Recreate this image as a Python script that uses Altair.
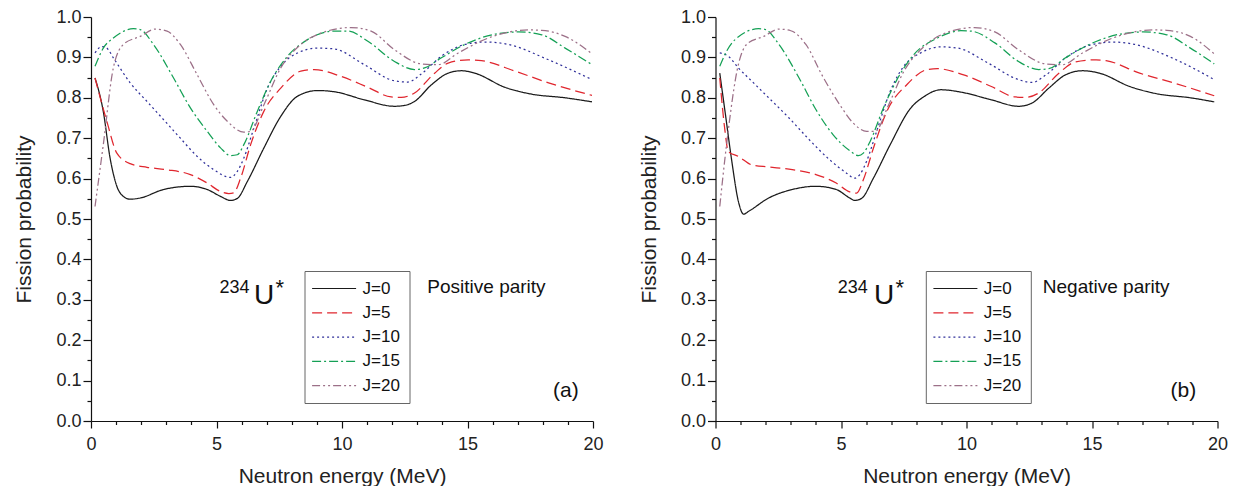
import altair as alt
import pandas as pd

FONT = "Liberation Sans"

J_LABELS = ["J=0", "J=5", "J=10", "J=15", "J=20"]
COLORS = ["#1a1a1a", "#e0262e", "#30309a", "#14a055", "#9c7088"]
DASHES = [[1, 0], [10, 5], [2, 3], [9, 3, 2, 3], [8, 3, 2, 3, 2, 3]]

X_TICKS = list(range(0, 21))
Y_TICKS = [0.0, 0.05, 0.1, 0.15, 0.2, 0.25, 0.3, 0.35, 0.4, 0.45, 0.5,
           0.55, 0.6, 0.65, 0.7, 0.75, 0.8, 0.85, 0.9, 0.95, 1.0]

# ---------------- panel (a): positive parity ----------------
a_J0_E = [0.16, 0.49, 0.76, 1.03, 1.29, 1.56, 1.96, 2.89, 3.96, 4.63, 5.16, 5.56, 5.83, 6.23, 6.89, 7.56,
          8.23, 9.03, 9.69, 10.89, 12.09, 12.49, 12.89, 13.56, 14.23, 14.76, 15.29, 16.49, 17.56, 18.89, 19.96]
a_J0_P = [0.849, 0.766, 0.651, 0.581, 0.556, 0.549, 0.552, 0.573, 0.581, 0.573, 0.556, 0.546, 0.551, 0.593,
          0.676, 0.754, 0.804, 0.818, 0.815, 0.795, 0.779, 0.781, 0.791, 0.832, 0.861, 0.867, 0.861, 0.826,
          0.809, 0.800, 0.790]
a_J5_E = [0.16, 0.63, 1.03, 1.56, 2.23, 3.03, 3.96, 4.63, 5.16, 5.49, 5.69, 5.96, 6.36, 6.89, 7.56, 8.36,
          8.89, 9.96, 11.03, 11.96, 12.36, 12.89, 13.69, 14.23, 15.03, 15.56, 16.89, 18.23, 19.96]
a_J5_P = [0.849, 0.742, 0.663, 0.637, 0.628, 0.622, 0.610, 0.589, 0.568, 0.563, 0.565, 0.601, 0.684, 0.767,
          0.824, 0.866, 0.870, 0.853, 0.826, 0.802, 0.801, 0.812, 0.861, 0.886, 0.894, 0.892, 0.866, 0.837, 0.806]
a_J10_E = [0.16, 0.43, 0.63, 0.89, 1.56, 2.23, 2.89, 3.56, 4.23, 4.89, 5.56, 5.83, 6.09, 6.49, 7.03, 7.56,
           8.23, 9.03, 9.69, 10.89, 12.09, 12.63, 13.16, 13.96, 14.89, 15.69, 16.63, 18.23, 19.96]
a_J10_P = [0.911, 0.927, 0.923, 0.899, 0.837, 0.791, 0.746, 0.700, 0.655, 0.622, 0.603, 0.618, 0.651, 0.725,
           0.824, 0.878, 0.911, 0.923, 0.921, 0.882, 0.842, 0.839, 0.859, 0.903, 0.932, 0.938, 0.932, 0.894, 0.845]
a_J15_E = [0.16, 0.49, 0.89, 1.69, 1.96, 2.49, 3.29, 3.96, 4.63, 5.16, 5.56, 5.83, 6.09, 6.63, 7.16, 7.83,
           8.63, 9.69, 10.23, 11.03, 12.09, 12.89, 13.29, 13.96, 14.89, 16.23, 17.03, 17.96, 18.89, 19.96]
a_J15_P = [0.878, 0.923, 0.948, 0.971, 0.969, 0.932, 0.849, 0.775, 0.717, 0.676, 0.657, 0.659, 0.684, 0.767,
           0.841, 0.903, 0.944, 0.965, 0.965, 0.940, 0.890, 0.870, 0.874, 0.899, 0.932, 0.959, 0.963, 0.956,
           0.923, 0.882]
a_J20_E = [0.16, 0.49, 0.89, 1.29, 1.96, 2.56, 3.03, 3.56, 4.23, 4.89, 5.43, 6.09, 6.36, 6.89, 7.56, 8.36,
           9.16, 10.36, 11.16, 12.09, 13.16, 13.83, 14.63, 15.83, 17.43, 17.96, 18.89, 19.96]
a_J20_P = [0.531, 0.684, 0.874, 0.932, 0.952, 0.970, 0.965, 0.932, 0.857, 0.783, 0.742, 0.715, 0.717, 0.783,
           0.874, 0.932, 0.960, 0.974, 0.965, 0.919, 0.884, 0.882, 0.911, 0.948, 0.968, 0.967, 0.952, 0.909]

# ---------------- panel (b): negative parity ----------------
b_J0_E = [0.17, 0.38, 0.65, 0.91, 1.12, 1.32, 2.12, 3.06, 4.0, 4.81, 5.35, 5.55, 5.82, 6.29, 6.96, 7.77,
          8.31, 8.98, 9.78, 10.99, 12.07, 12.61, 13.28, 13.95, 14.62, 15.3, 16.5, 17.58, 18.92, 19.87]
b_J0_P = [0.861, 0.766, 0.643, 0.544, 0.512, 0.519, 0.552, 0.573, 0.581, 0.573, 0.552, 0.546, 0.551, 0.601,
          0.684, 0.774, 0.803, 0.820, 0.814, 0.795, 0.779, 0.787, 0.824, 0.857, 0.867, 0.861, 0.828, 0.810,
          0.800, 0.790]
b_J5_E = [0.17, 0.38, 0.51, 0.91, 1.45, 2.12, 3.06, 4.0, 4.81, 5.35, 5.62, 5.89, 6.29, 6.83, 7.63, 8.44,
          8.84, 9.92, 10.99, 11.94, 12.34, 12.88, 13.68, 14.35, 15.16, 15.56, 16.9, 18.25, 19.87]
b_J5_P = [0.849, 0.717, 0.667, 0.655, 0.634, 0.629, 0.622, 0.610, 0.589, 0.567, 0.564, 0.597, 0.675, 0.767,
          0.833, 0.870, 0.872, 0.856, 0.828, 0.802, 0.801, 0.812, 0.861, 0.889, 0.894, 0.892, 0.861, 0.837, 0.805]
b_J10_E = [0.17, 0.51, 0.91, 1.45, 2.12, 2.93, 3.74, 4.54, 5.21, 5.55, 5.75, 6.02, 6.42, 6.96, 7.5, 8.17,
           8.98, 9.65, 10.86, 12.07, 12.61, 13.15, 13.95, 14.89, 15.83, 16.64, 18.25, 19.87]
b_J10_P = [0.911, 0.903, 0.874, 0.841, 0.800, 0.750, 0.696, 0.647, 0.614, 0.601, 0.610, 0.643, 0.717, 0.816,
           0.878, 0.911, 0.926, 0.923, 0.886, 0.845, 0.838, 0.856, 0.899, 0.930, 0.938, 0.933, 0.897, 0.845]
b_J15_E = [0.17, 0.44, 0.78, 1.72, 1.99, 2.53, 3.33, 4.0, 4.68, 5.35, 5.69, 5.89, 6.16, 6.69, 7.23, 7.9,
           8.84, 9.78, 10.19, 11.13, 12.07, 12.88, 13.28, 13.95, 14.89, 16.24, 17.04, 17.98, 18.92, 19.87]
b_J15_P = [0.878, 0.915, 0.944, 0.971, 0.969, 0.932, 0.849, 0.771, 0.709, 0.669, 0.657, 0.663, 0.692, 0.775,
           0.845, 0.907, 0.948, 0.966, 0.965, 0.936, 0.890, 0.870, 0.872, 0.899, 0.932, 0.959, 0.963, 0.956,
           0.923, 0.884]
b_J20_E = [0.17, 0.44, 0.91, 1.25, 1.92, 2.53, 3.0, 3.6, 4.27, 4.95, 5.48, 6.02, 6.36, 6.9, 7.5, 8.31,
           9.11, 10.32, 11.13, 12.07, 13.15, 13.82, 14.62, 15.83, 17.44, 17.98, 18.92, 19.87]
b_J20_P = [0.531, 0.684, 0.882, 0.933, 0.952, 0.970, 0.966, 0.932, 0.853, 0.783, 0.738, 0.717, 0.717, 0.783,
           0.865, 0.927, 0.959, 0.974, 0.963, 0.919, 0.884, 0.882, 0.911, 0.948, 0.968, 0.967, 0.952, 0.909]

# ---------------- annotations ----------------
ANN_SIZE = [18, 28, 22, 19, 21]
ANN_A_TEXT = ["234", "U", "*", "Positive parity", "(a)"]
ANN_A_X = [5.12, 6.49, 7.35, 13.40, 18.41]
ANN_A_Y = [0.317, 0.290, 0.312, 0.316, 0.060]
ANN_B_TEXT = ["234", "U", "*", "Negative parity", "(b)"]
ANN_B_X = [4.87, 6.31, 7.17, 13.04, 18.13]
ANN_B_Y = [0.317, 0.290, 0.312, 0.316, 0.060]


def lines_df(E_lists, P_lists):
    rows = []
    for lab, E, P in zip(J_LABELS, E_lists, P_lists):
        for e, p in zip(E, P):
            rows.append({"J": lab, "E": e, "P": p})
    return pd.DataFrame(rows)


def make_panel(df, ann_text, ann_x, ann_y, legend_x, label_pad, title_pad):
    xs = alt.Scale(domain=[0, 20], nice=False, zero=False)
    ys = alt.Scale(domain=[0, 1], nice=False)
    x_axis = alt.Axis(
        values=X_TICKS, title="Neutron energy (MeV)",
        labelExpr="datum.value % 5 == 0 ? format(datum.value, 'd') : ''",
        tickSize={"condition": {"test": "datum.value % 5 == 0", "value": 7}, "value": 3.5},
        labelPadding=7, titlePadding=12, labelOverlap=False, labelFlush=False)
    y_axis = alt.Axis(
        values=Y_TICKS, title="Fission probability",
        labelExpr="round(datum.value * 20) % 2 == 0 ? format(datum.value, '.1f') : ''",
        tickSize={"condition": {"test": "round(datum.value * 20) % 2 == 0", "value": 8}, "value": 4},
        labelPadding=label_pad, titlePadding=title_pad, labelOverlap=False, labelFlush=False)
    legend = alt.Legend(
        title=None, orient="none", legendX=legend_x, legendY=254,
        strokeColor="#666666", fillColor="white", padding=9,
        symbolType="M-1.8,0H6.2", symbolSize=121, symbolStrokeWidth=1.2,
        labelOffset=32, labelFontSize=17, labelFont=FONT, labelColor="#111111",
        rowPadding=6.3,
    )
    lines = alt.Chart(df).mark_line(strokeWidth=1.25, interpolate="monotone").encode(
        x=alt.X("E:Q", scale=xs, axis=x_axis),
        y=alt.Y("P:Q", scale=ys, axis=y_axis),
        color=alt.Color("J:N", scale=alt.Scale(domain=J_LABELS, range=COLORS), sort=J_LABELS, legend=legend),
        strokeDash=alt.StrokeDash("J:N", scale=alt.Scale(domain=J_LABELS, range=DASHES), sort=J_LABELS,
                                  legend=legend),
    )
    ann = pd.DataFrame({"E": ann_x, "P": ann_y, "text": ann_text, "size": ANN_SIZE})
    texts = alt.Chart(ann).mark_text(align="left", baseline="alphabetic", font=FONT, color="#111111").encode(
        x=alt.X("E:Q", scale=xs, axis=x_axis),
        y=alt.Y("P:Q", scale=ys, axis=y_axis),
        text="text:N",
        size=alt.Size("size:Q", scale=None, legend=None),
    )
    return alt.layer(lines, texts).properties(width=502, height=404)


df_a = lines_df([a_J0_E, a_J5_E, a_J10_E, a_J15_E, a_J20_E], [a_J0_P, a_J5_P, a_J10_P, a_J15_P, a_J20_P])
df_b = lines_df([b_J0_E, b_J5_E, b_J10_E, b_J15_E, b_J20_E], [b_J0_P, b_J5_P, b_J10_P, b_J15_P, b_J20_P])

left = make_panel(df_a, ANN_A_TEXT, ANN_A_X, ANN_A_Y, 213.5, 2, 21)
right = make_panel(df_b, ANN_B_TEXT, ANN_B_X, ANN_B_Y, 210.3, 2, 21)

chart = alt.hconcat(left, right, spacing=122.5, bounds="flush").resolve_scale(
    color="independent", strokeDash="independent"
).properties(
    padding={"left": 5, "top": 0, "right": 2, "bottom": 0}
).configure_view(stroke=None).configure_axis(
    grid=False, domainColor="#111111", tickColor="#111111", domainWidth=1.2, tickWidth=1.2,
    labelFont=FONT, labelFontSize=18, labelColor="#222222",
    titleFont=FONT, titleFontSize=21, titleFontWeight="normal", titleColor="#222222",
)

chart.save("out.html", embed_options={"renderer": "svg", "actions": False})
